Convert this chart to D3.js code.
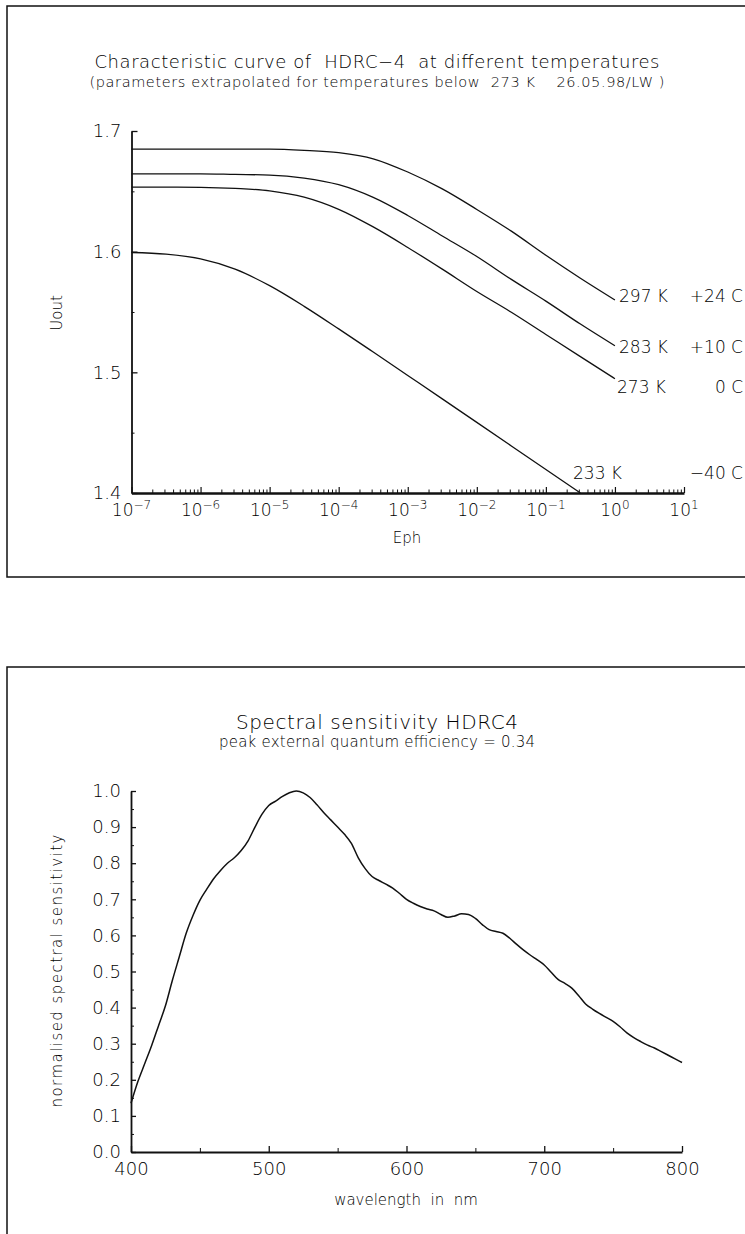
<!DOCTYPE html>
<html lang="en">
<head>
  <meta charset="UTF-8">
  <title>HDRC-4 characteristic and spectral sensitivity</title>
  <script src="https://d3js.org/d3.v7.min.js"></script>
  <style>
    body {
      margin: 0;
      background: #fff;
    }
    svg {
      display: block;
      font-family: "DejaVu Sans", sans-serif;
      font-weight: 200;
      fill: #000;
    }
    svg text {
      white-space: pre;
    }
    .axis path, .axis line {
      stroke: #111;
    }
    .axis text {
      font-family: "DejaVu Sans", sans-serif;
      font-weight: 200;
      fill: #000;
    }
  </style>
</head>
<body>

<svg width="745" height="1234"></svg>

<script>
  // ---- characteristic curve data (log10 of Eph, Uout in V) ----
  const ephLog = [-7, -6.5, -6, -5.5, -5, -4.5, -4, -3.5, -3, -2.5, -2, -1.5, -1, -0.5, 0];
  const u297 = [1.685, 1.685, 1.685, 1.685, 1.685, 1.684, 1.682, 1.677, 1.666, 1.652, 1.635, 1.617, 1.597, 1.578, 1.560];
  const u283 = [1.6645, 1.6645, 1.6645, 1.664, 1.6635, 1.661, 1.6555, 1.645, 1.630, 1.613, 1.596, 1.577, 1.559, 1.540, 1.522];
  const u273 = [1.6535, 1.6535, 1.6533, 1.6524, 1.6504, 1.6452, 1.6351, 1.6205, 1.6035, 1.5855, 1.567, 1.5498, 1.5314, 1.513, 1.4947];
  const u233 = [1.5993, 1.5979, 1.594, 1.5855, 1.5718, 1.5547, 1.536, 1.5168, 1.4974, 1.478, 1.4585, 1.439, 1.4195, 1.400];
  const tempK = ["297 K", "283 K", "273 K", "233 K"];
  const tempC = ["+24 C", "+10 C", "0 C", "\u221240 C"];
  const uTicks = [1.4, 1.5, 1.6, 1.7];
  const ephTickExp = [-7, -6, -5, -4, -3, -2, -1, 0, 1];

  // ---- spectral sensitivity data ----
  const wavelength = [400, 405, 410, 415, 420, 425, 430, 435, 440, 445, 450, 455, 460, 465, 470, 475, 480, 485, 490, 495,
    500, 505, 510, 515, 520, 525, 530, 535, 540, 545, 550, 555, 560, 565, 570, 575, 580, 585, 590, 595,
    600, 605, 610, 615, 620, 625, 630, 635, 640, 645, 650, 655, 660, 665, 670, 675, 680, 685, 690, 695,
    700, 705, 710, 715, 720, 725, 730, 735, 740, 745, 750, 755, 760, 765, 770, 775, 780, 785, 790, 795, 800];
  const sensitivity = [0.135, 0.195, 0.245, 0.295, 0.350, 0.405, 0.475, 0.540, 0.605, 0.655, 0.697, 0.728, 0.757, 0.780, 0.800, 0.815, 0.835, 0.862, 0.900, 0.935,
    0.960, 0.972, 0.985, 0.995, 1.000, 0.995, 0.982, 0.962, 0.940, 0.920, 0.900, 0.880, 0.855, 0.815, 0.785, 0.763, 0.752, 0.742, 0.731, 0.716,
    0.700, 0.689, 0.680, 0.673, 0.668, 0.658, 0.650, 0.654, 0.660, 0.658, 0.647, 0.630, 0.616, 0.611, 0.606, 0.592, 0.575, 0.559, 0.545, 0.532,
    0.518, 0.498, 0.478, 0.467, 0.454, 0.433, 0.410, 0.396, 0.384, 0.373, 0.362, 0.347, 0.330, 0.317, 0.306, 0.296, 0.288, 0.278, 0.268, 0.258, 0.248];
  const sensTicks = [0, 0.1, 0.2, 0.3, 0.4, 0.5, 0.6, 0.7, 0.8, 0.9, 1.0];
  const wlTicks = [400, 500, 600, 700, 800];

  const svg = d3.select("svg");
  const ink = "#111";

  // ================= top chart =================
  svg.append("path")
    .attr("d", "M760,6 H7 V577 H760")
    .attr("fill", "none").attr("stroke", ink).attr("stroke-width", 1.5);

  svg.append("text")
    .attr("x", 377).attr("y", 68)
    .attr("text-anchor", "middle")
    .style("font-size", "18px")
    .attr("textLength", 565).attr("lengthAdjust", "spacing")
    .text("Characteristic curve of  HDRC\u22124  at different temperatures");
  svg.append("text")
    .attr("x", 377).attr("y", 87)
    .attr("text-anchor", "middle")
    .style("font-size", "14.5px")
    .attr("textLength", 575).attr("lengthAdjust", "spacing")
    .text("(parameters extrapolated for temperatures below  273 K    26.05.98/LW )");

  const m1 = { left: 131.5, right: 684, top: 131, bottom: 493 };
  const x1 = d3.scaleLog().domain([1e-7, 1e1]).range([m1.left, m1.right]);
  const y1 = d3.scaleLinear().domain([1.4, 1.7]).range([m1.bottom, m1.top]);

  // Y axis (inward ticks)
  svg.append("g").attr("class", "axis")
    .attr("transform", `translate(${m1.left},0)`)
    .call(d3.axisLeft(y1).tickValues(d3.range(1.45, 1.7, 0.1)).tickSizeInner(-3).tickSizeOuter(0).tickFormat(""))
    .call(g => g.select(".domain").remove());
  svg.append("g").attr("class", "axis")
    .attr("transform", `translate(${m1.left},0)`)
    .call(d3.axisLeft(y1).tickValues(uTicks).tickSizeInner(-6).tickSizeOuter(0).tickPadding(10)
      .tickFormat(d3.format(".1f")))
    .call(g => g.select(".domain").attr("stroke-width", 1.8))
    .call(g => g.selectAll("line").attr("stroke-width", 1.3))
    .call(g => g.selectAll("text").style("font-size", "18px"));

  // X axis (log, inward ticks)
  const minorEph = [];
  ephTickExp.slice(0, -1).forEach(e => {
    for (let k = 2; k <= 9; k++) minorEph.push(k * Math.pow(10, e));
  });
  svg.append("g").attr("class", "axis")
    .attr("transform", `translate(0,${m1.bottom})`)
    .call(d3.axisBottom(x1).tickValues(minorEph).tickSizeInner(-3.5).tickSizeOuter(0).tickFormat(""))
    .call(g => g.select(".domain").remove());
  svg.append("g").attr("class", "axis")
    .attr("transform", `translate(0,${m1.bottom})`)
    .call(d3.axisBottom(x1).tickValues(ephTickExp.map(e => Math.pow(10, e))).tickSizeInner(-6).tickSizeOuter(0).tickFormat(""))
    .call(g => g.select(".domain").attr("stroke-width", 2.6))
    .call(g => g.selectAll("line").attr("stroke-width", 1.2));

  const ephLabels = svg.append("g").selectAll("text")
    .data(ephTickExp)
    .join("text")
    .attr("x", d => x1(Math.pow(10, d)))
    .attr("y", 516)
    .attr("text-anchor", "middle")
    .style("font-size", "17px");
  ephLabels.append("tspan").text("10");
  ephLabels.append("tspan")
    .attr("dy", -7)
    .style("font-size", "12px")
    .text(d => d < 0 ? "\u2212" + (-d) : String(d));

  svg.append("text")
    .attr("x", 407).attr("y", 543)
    .attr("text-anchor", "middle")
    .style("font-size", "15px")
    .text("Eph");
  svg.append("text")
    .attr("transform", "translate(62,313) rotate(-90)")
    .attr("text-anchor", "middle")
    .style("font-size", "15px")
    .text("Uout");

  // curves
  const curves = [u297, u283, u273, u233];
  const line1 = d3.line()
    .x((d, i) => x1(Math.pow(10, ephLog[i])))
    .y(d => y1(d))
    .curve(d3.curveMonotoneX);
  svg.append("g").selectAll("path")
    .data(curves)
    .join("path")
    .attr("d", d => line1(d))
    .attr("fill", "none")
    .attr("stroke", ink)
    .attr("stroke-width", 1.3);

  // temperature labels
  const labelKx = [619, 619, 617, 573];
  const labelY = [302, 353, 393, 479];
  svg.append("g").selectAll("text")
    .data(tempK)
    .join("text")
    .attr("x", (d, i) => labelKx[i])
    .attr("y", (d, i) => labelY[i])
    .style("font-size", "17px")
    .text(d => d);
  svg.append("g").selectAll("text")
    .data(tempC)
    .join("text")
    .attr("x", 743)
    .attr("y", (d, i) => labelY[i])
    .attr("text-anchor", "end")
    .style("font-size", "17px")
    .text(d => d);

  // ================= bottom chart =================
  svg.append("path")
    .attr("d", "M760,667 H7 V1240")
    .attr("fill", "none").attr("stroke", ink).attr("stroke-width", 1.5);

  svg.append("text")
    .attr("x", 377).attr("y", 729)
    .attr("text-anchor", "middle")
    .style("font-size", "20px")
    .attr("textLength", 282).attr("lengthAdjust", "spacing")
    .text("Spectral sensitivity HDRC4");
  svg.append("text")
    .attr("x", 377).attr("y", 747)
    .attr("text-anchor", "middle")
    .style("font-size", "15px")
    .attr("textLength", 316).attr("lengthAdjust", "spacing")
    .text("peak external quantum efficiency = 0.34");

  const m2 = { left: 131, right: 682, top: 791, bottom: 1152 };
  const x2 = d3.scaleLinear().domain([400, 800]).range([m2.left, m2.right]);
  const y2 = d3.scaleLinear().domain([0, 1]).range([m2.bottom, m2.top]);

  svg.append("g").attr("class", "axis")
    .attr("transform", `translate(${m2.left},0)`)
    .call(d3.axisLeft(y2).tickValues(d3.range(0.05, 1, 0.1)).tickSizeInner(-3).tickSizeOuter(0).tickFormat(""))
    .call(g => g.select(".domain").remove());
  svg.append("g").attr("class", "axis")
    .attr("transform", `translate(${m2.left},0)`)
    .call(d3.axisLeft(y2).tickValues(sensTicks).tickSizeInner(-5).tickSizeOuter(0).tickPadding(10)
      .tickFormat(d3.format(".1f")))
    .call(g => g.select(".domain").attr("stroke-width", 1.8))
    .call(g => g.selectAll("line").attr("stroke-width", 1.3))
    .call(g => g.selectAll("text").style("font-size", "18px"));

  svg.append("g").attr("class", "axis")
    .attr("transform", `translate(0,${m2.bottom})`)
    .call(d3.axisBottom(x2).tickValues(d3.range(450, 800, 100)).tickSizeInner(-4).tickSizeOuter(0).tickFormat(""))
    .call(g => g.select(".domain").remove());
  svg.append("g").attr("class", "axis")
    .attr("transform", `translate(0,${m2.bottom})`)
    .call(d3.axisBottom(x2).tickValues(wlTicks).tickSizeInner(-6).tickSizeOuter(0).tickPadding(10))
    .call(g => g.select(".domain").attr("stroke-width", 2.2))
    .call(g => g.selectAll("line").attr("stroke-width", 1.3))
    .call(g => g.selectAll("text").style("font-size", "18px"));

  svg.append("text")
    .attr("x", 406).attr("y", 1205)
    .attr("text-anchor", "middle")
    .style("font-size", "15px")
    .text("wavelength  in  nm");
  svg.append("text")
    .attr("transform", "translate(62,971) rotate(-90)")
    .attr("text-anchor", "middle")
    .style("font-size", "15px")
    .attr("textLength", 273).attr("lengthAdjust", "spacing")
    .text("normalised spectral sensitivity");

  const line2 = d3.line()
    .x((d, i) => x2(wavelength[i]))
    .y(d => y2(d))
    .curve(d3.curveMonotoneX);
  svg.append("path")
    .datum(sensitivity)
    .attr("d", line2)
    .attr("fill", "none")
    .attr("stroke", ink)
    .attr("stroke-width", 1.5);
</script>

</body>
</html>
